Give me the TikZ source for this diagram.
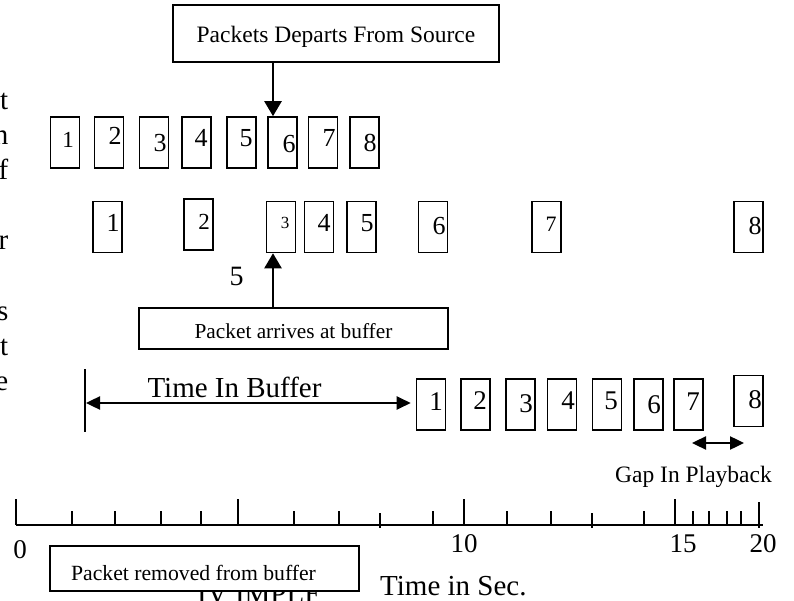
\documentclass[tikz,border=0pt]{standalone}
\usepackage{fontspec}
\setmainfont{Liberation Serif}
\usetikzlibrary{arrows.meta}
\newcommand\fsz[1]{\fontsize{#1}{#1}\selectfont}
\begin{document}
\begin{tikzpicture}[x=1pt,y=-1pt,
  pkt/.style={draw,line width=1.6pt,minimum width=29pt,minimum height=51pt,inner sep=0pt},
  lbox/.style={draw,line width=1.6pt,inner sep=0pt,text depth=0pt},
  dig/.style={anchor=base,inner sep=0pt,font=\fsz{26}},
  digb/.style={anchor=base,inner sep=0pt,font=\fsz{27}},
  frag/.style={anchor=base east,inner sep=0pt,font=\fsz{29}},
  axl/.style={anchor=base,inner sep=0pt,font=\fsz{27}},
  arr/.style={line width=2.4pt,-{Triangle[length=15pt,width=17pt]}},
  darr/.style={line width=2.4pt,{Triangle[length=14pt,width=13pt]}-{Triangle[length=14pt,width=13pt]}},
  tick/.style={line width=1.6pt}]
\useasboundingbox (0,0) rectangle (794,601);
\fill[white] (0,0) rectangle (794,601);

% fragments of body text at left margin
\node[frag] (f1) at (8.5,110) {t};
\node[frag] (f2) at (8.5,145) {n};
\node[frag] (f3) at (8.5,180) {f};
\node[frag] (f4) at (8.5,250) {r};
\node[frag] (f5) at (8.5,320) {s};
\node[frag] (f6) at (8.5,355) {t};
\node[frag] (f7) at (8.5,390) {e};

% source box
\node[lbox,minimum width=326pt,minimum height=57pt,text height=19pt,font=\fsz{23.5}] (src) at (336,33.5) {Packets Departs From Source};

% row 1
\node[pkt] (r1b1) at (65,142.5) {};
\node[pkt] (r1b2) at (109,142.5) {};
\node[pkt] (r1b3) at (154,142.5) {};
\node[pkt] (r1b4) at (196.5,142.5) {};
\node[pkt] (r1b5) at (241.5,142.5) {};
\node[pkt] (r1b6) at (282.5,142.5) {};
\node[pkt] (r1b7) at (323,142.5) {};
\node[pkt] (r1b8) at (364.5,142.5) {};
\node[dig,font=\fsz{23}] (r1d1) at (68,148) {1};
\node[dig] (r1d2) at (115,145) {2};
\node[dig] (r1d3) at (160,152) {3};
\node[dig] (r1d4) at (201,147) {4};
\node[dig] (r1d5) at (246,147) {5};
\node[dig] (r1d6) at (289,153) {6};
\node[dig] (r1d7) at (329,147) {7};
\node[dig] (r1d8) at (370,152) {8};

% row 2
\node[pkt] (r2b1) at (107.5,227) {};
\node[pkt] (r2b2) at (198.5,224.5) {};
\node[pkt] (r2b3) at (281,227) {};
\node[pkt] (r2b4) at (319,227) {};
\node[pkt] (r2b5) at (361.5,227) {};
\node[pkt] (r2b6) at (433,227) {};
\node[pkt] (r2b7) at (546.5,227) {};
\node[pkt] (r2b8) at (748.5,227) {};
\node[dig] (r2d1) at (113,232) {1};
\node[dig,font=\fsz{23}] (r2d2) at (204,230) {2};
\node[dig,font=\fsz{17}] (r2d3) at (285,229) {3};
\node[dig] (r2d4) at (324,232) {4};
\node[dig] (r2d5) at (367,232) {5};
\node[dig] (r2d6) at (439,235) {6};
\node[dig,font=\fsz{22}] (r2d7) at (551,232) {7};
\node[dig] (r2d8) at (755,235) {8};

\node[anchor=base,inner sep=0pt,font=\fsz{28}] (five) at (236.5,285) {5};

% arrival box
\node[lbox,minimum width=309pt,minimum height=41pt,text height=19pt,font=\fsz{21.3}] (arrv) at (293.5,328.5) {Packet arrives at buffer};

% row 3
\node[pkt] (r3b1) at (431,404.5) {};
\node[pkt] (r3b2) at (475.5,404.5) {};
\node[pkt] (r3b3) at (520.5,404.5) {};
\node[pkt] (r3b4) at (562,404.5) {};
\node[pkt] (r3b5) at (607,404.5) {};
\node[pkt] (r3b6) at (648.5,404.5) {};
\node[pkt] (r3b7) at (688.5,404.5) {};
\node[pkt] (r3b8) at (748.5,401) {};
\node[digb] (r3d1) at (436,410) {1};
\node[digb] (r3d2) at (480,409) {2};
\node[digb] (r3d3) at (526,412) {3};
\node[digb] (r3d4) at (568,409) {4};
\node[digb] (r3d5) at (611,409) {5};
\node[digb] (r3d6) at (654,413) {6};
\node[digb] (r3d7) at (693,410) {7};
\node[digb] (r3d8) at (755,408) {8};

% arrows
\draw[arr] ([xshift=-63pt]src.south) -- ([xshift=-9.5pt]r1b6.north);
\draw[arr] ([xshift=-20.5pt]arrv.north) -- ([xshift=-8pt]r2b3.south);

% time in buffer
\coordinate (barT) at (85,369);
\coordinate (barB) at (85,432);
\coordinate (tibL) at (86,403);
\draw[line width=1.6pt] (barT) -- (barB);
\draw[darr] (tibL) -- ([xshift=-5pt]r3b1.west |- tibL);
\node[anchor=base,inner sep=0pt,font=\fsz{29}] (tib) at (234.5,397) {Time In Buffer};

% gap in playback
\coordinate (gapL) at (692,443);
\coordinate (gapR) at (744,443);
\draw[darr] (gapL) -- (gapR);
\node[anchor=base,inner sep=0pt,font=\fsz{23.5}] (gap) at (693.5,482) {Gap In Playback};

% time axis
\coordinate (ax0) at (16,525);
\coordinate (ax1) at (763,525);
\draw[tick] (ax0) -- (ax1);
\foreach \x in {16,238,464,675} \draw[tick] (\x,499) -- (\x,525);
\draw[tick] (759,502) -- (759,528);
\foreach \x in {72,115,161,201,294,339,433,507,551,644,693,709,727,741} \draw[tick] (\x,511) -- (\x,525);
\foreach \x in {380,592} \draw[tick] (\x,513) -- (\x,528);
\node[axl] (l0) at (20,558) {0};
\node[axl] (l10) at (464,552) {10};
\node[axl] (l15) at (683,552) {15};
\node[axl] (l20) at (763,552) {20};

% partially hidden heading behind the removal box
\begin{scope}
\clip (190,585) rectangle (316,601);
\node[anchor=base west,inner sep=0pt,font=\fsz{29}] (hid) at (197,603) {IV IMPLE};
\end{scope}
\node[lbox,fill=white,minimum width=309pt,minimum height=45pt,text height=23pt,font=\fsz{21.7}] (remv) at (204.5,568.5) {Packet removed from buffer\hspace*{22pt}};

\node[anchor=base west,inner sep=0pt,font=\fsz{29}] (tsec) at (380,595) {Time in Sec.};
\end{tikzpicture}
\end{document}
